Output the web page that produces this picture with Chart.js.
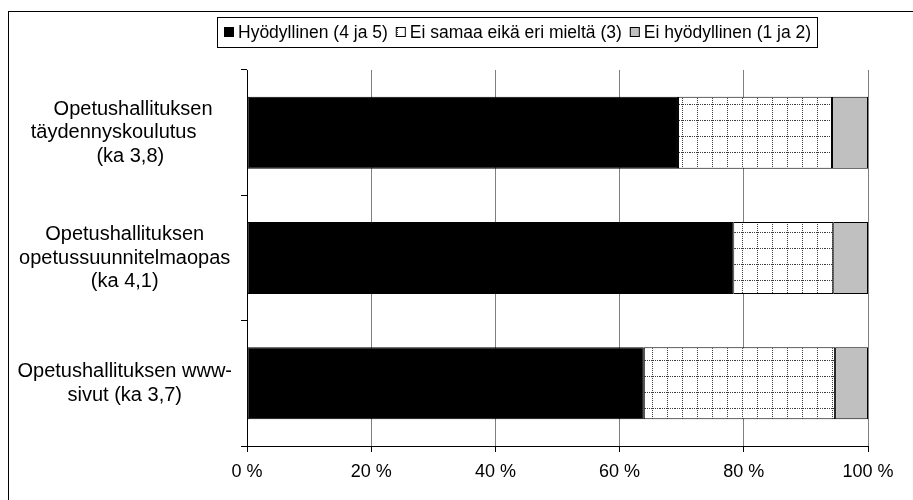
<!DOCTYPE html>
<html>
<head>
<meta charset="utf-8">
<script src="https://cdn.jsdelivr.net/npm/chart.js@4.4.1/dist/chart.umd.min.js"></script>
<style>
  html, body { margin: 0; padding: 0; background: #fff; }
  #wrap { position: relative; width: 913px; height: 500px; overflow: hidden; }
  #frame { position: absolute; left: 8px; top: 11px; right: 0; bottom: 0;
           border-left: 1px solid #000; border-top: 1px solid #000; }
  canvas { position: absolute; left: 0; top: 0; }
</style>
</head>
<body>
<div id="wrap">
  <div id="frame"></div>
  <canvas id="myChart" width="913" height="500"></canvas>
</div>
<script>
// kategoriat (rivitettyinä kuten alkuperäisessä)
const categories = [
  ['   Opetushallituksen', 'täydennyskoulutus    ', '  (ka 3,8)'],
  ['Opetushallituksen', 'opetussuunnitelmaopas', '(ka 4,1)'],
  ['Opetushallituksen www-', 'sivut (ka 3,7)']
];
const seriesNames = ['Hyödyllinen (4 ja 5)', 'Ei samaa eikä eri mieltä (3)', 'Ei hyödyllinen (1 ja 2)'];
// osuudet %
const useful = [69.4, 78.3, 63.9];
const neutral = [24.8, 16.1, 30.8];
const notUseful = [5.8, 5.6, 5.3];
const xTicks = ['0 %', '20 %', '40 %', '60 %', '80 %', '100 %'];

Chart.defaults.font.family = '"Liberation Sans", Arial, sans-serif';
Chart.defaults.color = '#000';

// pisteviivaruudukko "Ei samaa eikä eri mieltä" -sarjalle
function dotGrid() {
  const c = document.createElement('canvas');
  c.width = 15; c.height = 16;
  const g = c.getContext('2d');
  g.fillStyle = '#fff';
  g.fillRect(0, 0, 15, 16);
  g.fillStyle = '#3c3c3c';
  for (let i = 0; i < 16; i += 2) g.fillRect(7, i, 1, 1);
  for (let i = 0; i < 15; i += 2) g.fillRect(i, 8, 1, 1);
  return g.createPattern(c, 'repeat');
}

// selite laatikossa
const legendBox = {
  id: 'legendBox',
  afterDraw(chart) {
    const ctx = chart.ctx;
    const ds = chart.data.datasets;
    ctx.save();
    ctx.font = '17.5px "Liberation Sans", Arial, sans-serif';
    ctx.textBaseline = 'middle';
    const box = 10, gap = 4, sep = 8;
    const widths = ds.map(d => ctx.measureText(d.label).width);
    let total = 0;
    widths.forEach((w, i) => total += box + gap + w + (i ? sep : 0));
    let x = Math.round(517.5 - total / 2);
    const cy = 32;
    ctx.strokeStyle = '#000';
    ctx.lineWidth = 1;
    ctx.fillStyle = '#fff';
    ctx.fillRect(x - 7, 17, Math.round(total + 13), 30);
    ctx.strokeRect(x - 6.5, 17.5, Math.round(total + 13), 30);
    ds.forEach((d, i) => {
      ctx.fillStyle = d.backgroundColor;
      ctx.fillRect(x, cy - 5, box, box);
      ctx.strokeRect(x + 0.5, cy - 4.5, box - 1, box - 1);
      ctx.fillStyle = '#000';
      ctx.fillText(d.label, x + box + gap, cy + 1);
      x += box + gap + widths[i] + sep;
    });
    ctx.restore();
  }
};

const ctx = document.getElementById('myChart');
const sets = [
  { label: seriesNames[0], data: useful, backgroundColor: '#000' },
  { label: seriesNames[1], data: neutral, backgroundColor: dotGrid() },
  { label: seriesNames[2], data: notUseful, backgroundColor: '#c0c0c0' }
].map(d => Object.assign(d, {
  borderColor: '#000', borderWidth: 1, borderSkipped: false,
  barPercentage: 0.575, categoryPercentage: 1
}));

new Chart(ctx, {
  type: 'bar',
  data: { labels: categories, datasets: sets },
  options: {
    indexAxis: 'y',
    responsive: false,
    animation: false,
    layout: { padding: { top: 70, right: 45, bottom: 14, left: 0 } },
    plugins: { legend: { display: false }, tooltip: { enabled: false } },
    scales: {
      x: {
        stacked: true, min: 0, max: 100,
        ticks: { stepSize: 20, callback: v => xTicks[v / 20], font: { size: 18 },
                 padding: 9, maxRotation: 0, autoSkip: false },
        grid: { color: '#808080', tickColor: '#000', tickLength: 6 },
        border: { color: '#000' },
        afterFit(s) { s.height = 40; }
      },
      y: {
        stacked: true,
        ticks: { font: { size: 20, lineHeight: 1.175 }, crossAlign: 'center', padding: 9, autoSkip: false },
        grid: { drawOnChartArea: false, tickColor: '#000', tickLength: 6, offset: true },
        border: { color: '#000' },
        afterFit(s) { s.width = 247; }
      }
    }
  },
  plugins: [legendBox]
});
</script>
</body>
</html>
